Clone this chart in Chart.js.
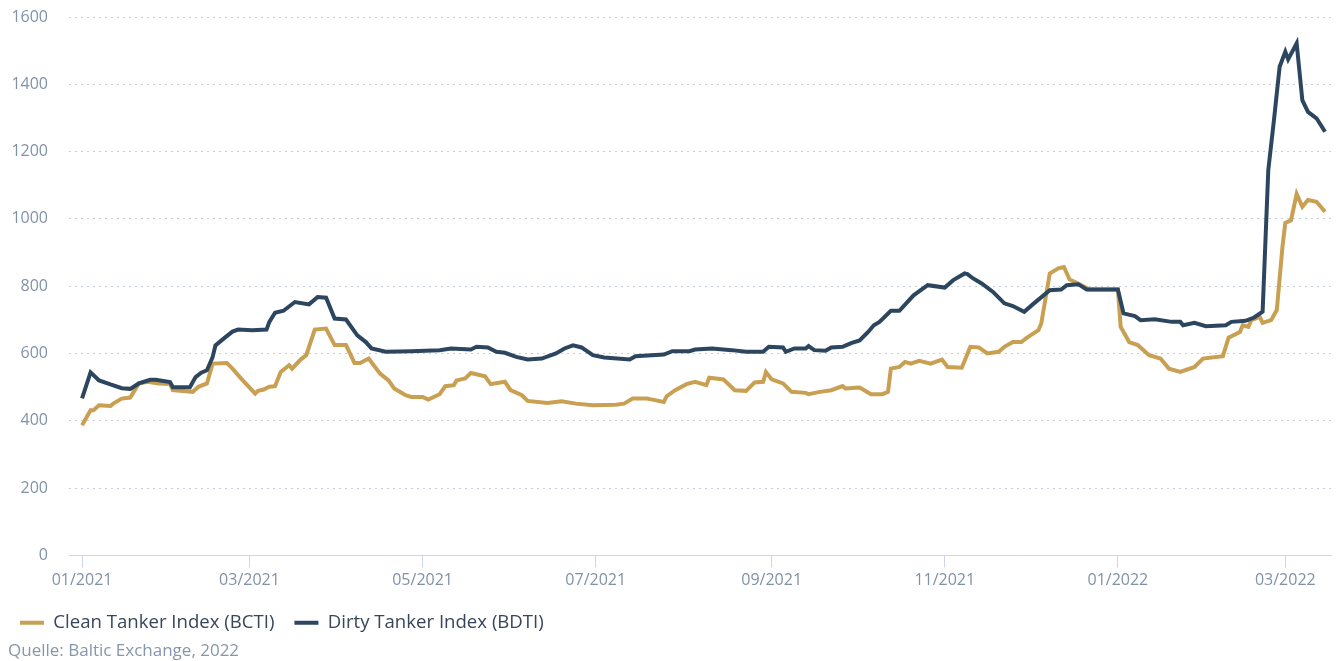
<!DOCTYPE html>
<html><head><meta charset="utf-8">
<script src="https://cdn.jsdelivr.net/npm/chart.js@4.4.1/dist/chart.umd.min.js"></script>
<style>
html,body{margin:0;padding:0;background:#fff;overflow:hidden}
#wrap{position:relative;width:1341px;height:661px}
#src{position:absolute;left:8px;top:638px;font:17px 'Open Sans',sans-serif;color:#8796aa;white-space:nowrap}
</style></head><body>
<div id="wrap"><canvas id="c" width="1341" height="661"></canvas><div id="src">Quelle: Baltic Exchange, 2022</div></div>
<script>
const tickDates = ['2021-01-01','2021-03-01','2021-05-01','2021-07-01','2021-09-01','2021-11-01','2022-01-01','2022-03-01'];
const tickLabels = ['01/2021','03/2021','05/2021','07/2021','09/2021','11/2021','01/2022','03/2022'];
const yTicks = [0,200,400,600,800,1000,1200,1400,1600];

const cleanDates = ['2021-01-01','2021-01-04','2021-01-05','2021-01-07','2021-01-11','2021-01-12','2021-01-15','2021-01-18','2021-01-21','2021-01-24','2021-01-28','2021-02-01','2021-02-02','2021-02-09','2021-02-11','2021-02-14','2021-02-16','2021-02-21','2021-02-23','2021-02-26','2021-03-03','2021-03-04','2021-03-06','2021-03-08','2021-03-10','2021-03-12','2021-03-15','2021-03-16','2021-03-19','2021-03-21','2021-03-24','2021-03-28','2021-03-31','2021-04-04','2021-04-07','2021-04-09','2021-04-12','2021-04-16','2021-04-19','2021-04-21','2021-04-25','2021-04-27','2021-05-01','2021-05-03','2021-05-07','2021-05-09','2021-05-12','2021-05-13','2021-05-16','2021-05-18','2021-05-23','2021-05-25','2021-05-30','2021-06-01','2021-06-05','2021-06-07','2021-06-14','2021-06-19','2021-06-24','2021-06-30','2021-07-08','2021-07-11','2021-07-14','2021-07-19','2021-07-21','2021-07-25','2021-07-26','2021-07-29','2021-08-02','2021-08-05','2021-08-09','2021-08-10','2021-08-15','2021-08-19','2021-08-23','2021-08-26','2021-08-29','2021-08-30','2021-09-01','2021-09-05','2021-09-08','2021-09-13','2021-09-14','2021-09-18','2021-09-22','2021-09-26','2021-09-27','2021-10-02','2021-10-06','2021-10-10','2021-10-12','2021-10-13','2021-10-16','2021-10-18','2021-10-20','2021-10-23','2021-10-27','2021-10-31','2021-11-02','2021-11-07','2021-11-10','2021-11-13','2021-11-16','2021-11-20','2021-11-22','2021-11-25','2021-11-28','2021-11-30','2021-12-04','2021-12-05','2021-12-08','2021-12-11','2021-12-13','2021-12-15','2021-12-18','2021-12-22','2022-01-01','2022-01-02','2022-01-05','2022-01-08','2022-01-12','2022-01-16','2022-01-19','2022-01-23','2022-01-28','2022-01-31','2022-02-07','2022-02-09','2022-02-13','2022-02-14','2022-02-16','2022-02-17','2022-02-20','2022-02-21','2022-02-24','2022-02-26','2022-02-28','2022-03-01','2022-03-03','2022-03-05','2022-03-07','2022-03-09','2022-03-12','2022-03-15'];
const cleanValues = [387,431,431,446,444,451,466,469,511,516,511,509,491,486,501,511,570,572,555,526,481,489,493,501,503,545,565,555,582,595,671,674,625,625,572,572,585,540,520,496,476,471,471,463,479,503,506,520,526,542,532,509,516,491,476,459,453,458,451,446,448,451,466,466,463,456,473,491,509,516,506,528,523,491,489,514,516,545,523,511,486,483,479,486,491,503,496,499,479,479,486,555,560,575,570,578,570,582,560,558,620,618,600,605,620,634,634,647,669,689,838,853,857,820,808,790,790,679,634,625,595,585,555,545,560,585,592,647,664,684,679,699,709,691,699,729,917,988,996,1074,1036,1056,1051,1021];

const dirtyDates = ['2021-01-01','2021-01-04','2021-01-07','2021-01-11','2021-01-15','2021-01-18','2021-01-21','2021-01-25','2021-01-27','2021-02-01','2021-02-02','2021-02-08','2021-02-10','2021-02-12','2021-02-14','2021-02-16','2021-02-17','2021-02-20','2021-02-23','2021-02-25','2021-03-02','2021-03-07','2021-03-08','2021-03-10','2021-03-13','2021-03-17','2021-03-22','2021-03-25','2021-03-28','2021-03-31','2021-04-04','2021-04-08','2021-04-11','2021-04-13','2021-04-18','2021-04-27','2021-05-07','2021-05-11','2021-05-18','2021-05-20','2021-05-24','2021-05-27','2021-05-30','2021-06-03','2021-06-07','2021-06-12','2021-06-17','2021-06-20','2021-06-23','2021-06-26','2021-06-30','2021-07-04','2021-07-13','2021-07-15','2021-07-25','2021-07-28','2021-08-03','2021-08-05','2021-08-11','2021-08-18','2021-08-23','2021-08-29','2021-08-31','2021-09-05','2021-09-06','2021-09-09','2021-09-13','2021-09-14','2021-09-16','2021-09-20','2021-09-22','2021-09-26','2021-09-29','2021-10-02','2021-10-05','2021-10-07','2021-10-09','2021-10-13','2021-10-16','2021-10-21','2021-10-26','2021-11-01','2021-11-04','2021-11-08','2021-11-09','2021-11-11','2021-11-14','2021-11-18','2021-11-22','2021-11-25','2021-11-29','2021-12-02','2021-12-08','2021-12-12','2021-12-14','2021-12-18','2021-12-21','2022-01-01','2022-01-03','2022-01-07','2022-01-09','2022-01-14','2022-01-20','2022-01-23','2022-01-24','2022-01-28','2022-02-01','2022-02-08','2022-02-10','2022-02-15','2022-02-18','2022-02-21','2022-02-23','2022-02-25','2022-02-27','2022-03-01','2022-03-02','2022-03-05','2022-03-07','2022-03-09','2022-03-12','2022-03-15'];
const dirtyValues = [467,544,520,508,497,495,511,522,522,515,500,500,530,543,550,589,624,645,665,671,669,671,694,721,727,753,746,768,766,704,701,654,634,615,605,607,610,615,612,620,618,605,602,590,582,585,600,615,624,618,595,588,582,592,597,607,607,612,615,610,605,605,620,618,605,615,615,622,610,608,618,620,631,639,664,684,694,727,727,773,803,796,818,838,836,823,808,783,749,741,724,746,788,790,803,806,790,790,719,711,699,702,694,694,684,691,681,684,694,697,707,724,1145,1294,1452,1497,1474,1522,1353,1318,1299,1259];

const seriesNames = ['Clean Tanker Index (BCTI)', 'Dirty Tanker Index (BDTI)'];
const seriesColors = ['#c99f52', '#2c4660'];

const day0 = Date.UTC(2021, 0, 1);
const toDay = s => (Date.UTC(+s.slice(0,4), +s.slice(5,7) - 1, +s.slice(8,10)) - day0) / 86400000;
const pts = (d, v) => d.map((s, i) => ({ x: toDay(s), y: v[i] }));
const tickDays = tickDates.map(toDay);

const font = "'Open Sans', sans-serif";

new Chart(document.getElementById('c'), {
  type: 'line',
  data: {
    datasets: [
      { label: seriesNames[0], data: pts(cleanDates, cleanValues), borderColor: seriesColors[0], backgroundColor: seriesColors[0], borderWidth: 4, pointRadius: 0, tension: 0, order: 1 },
      { label: seriesNames[1], data: pts(dirtyDates, dirtyValues), borderColor: seriesColors[1], backgroundColor: seriesColors[1], borderWidth: 4, pointRadius: 0, tension: 0, order: 0 }
    ]
  },
  options: {
    responsive: false,
    devicePixelRatio: 1,
    animation: false,
    layout: { padding: { left: 0, right: 10, top: 17, bottom: 19 } },
    plugins: {
      tooltip: { enabled: false },
      legend: {
        position: 'bottom',
        align: 'start',
        labels: {
          usePointStyle: true, pointStyle: 'line', pointStyleWidth: 24,
          padding: 20, color: '#374659', font: { family: font, size: 18.6 },
          sort: (a, b) => a.datasetIndex - b.datasetIndex
        }
      }
    },
    scales: {
      x: {
        type: 'linear',
        min: -4.6, max: 440.1,
        afterBuildTicks: s => { s.ticks = tickDays.map(v => ({ value: v })); },
        afterFit: s => { s.height = 38; },
        ticks: {
          autoSkip: false, maxRotation: 0, padding: 3,
          color: '#8192a8', font: { family: font, size: 16 },
          callback: v => { const i = tickDays.indexOf(v); return i >= 0 ? tickLabels[i] : ''; }
        },
        grid: { drawOnChartArea: false, drawTicks: true, tickLength: 12, color: '#ccd6eb' },
        border: { display: true, color: '#ccd6eb', width: 1 }
      },
      y: {
        min: 0, max: 1600,
        afterBuildTicks: s => { s.ticks = yTicks.map(v => ({ value: v })); },
        afterFit: s => { s.width = 69; },
        ticks: { padding: 0, color: '#8192a8', font: { family: font, size: 16 }, callback: v => String(v) },
        grid: { drawTicks: true, tickLength: 21, tickColor: 'rgba(0,0,0,0)', color: '#c3cfdc', lineWidth: 1 },
        border: { display: false, dash: [2, 4] }
      }
    }
  }
});
</script>
</body></html>
